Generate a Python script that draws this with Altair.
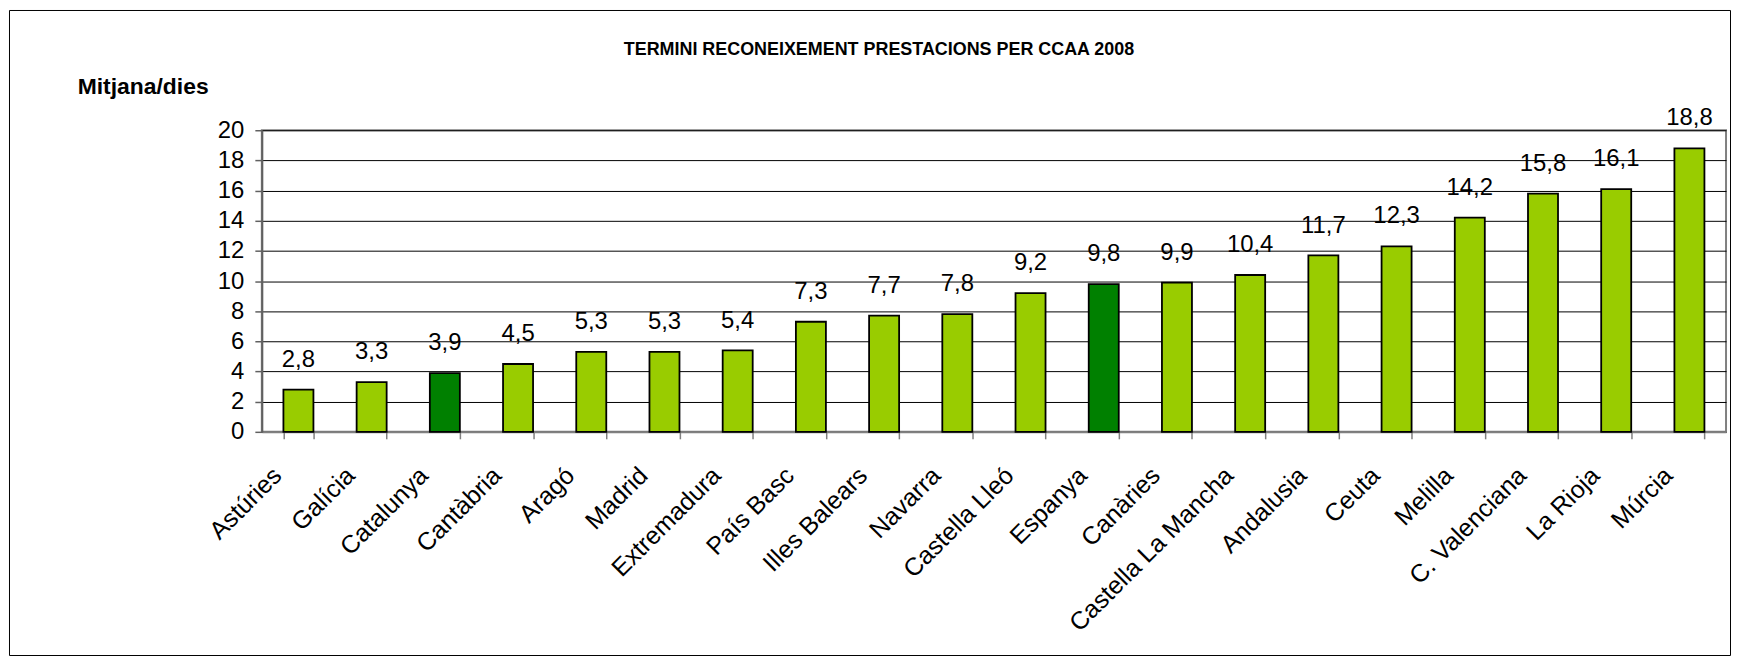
import altair as alt
import pandas as pd

# ---- data ----
regions = ["Astúries", "Galícia", "Catalunya", "Cantàbria", "Aragó", "Madrid",
           "Extremadura", "País Basc", "Illes Balears", "Navarra", "Castella Lleó",
           "Espanya", "Canàries", "Castella La Mancha", "Andalusia", "Ceuta",
           "Melilla", "C. Valenciana", "La Rioja", "Múrcia"]
days = [2.8, 3.3, 3.9, 4.5, 5.3, 5.3, 5.4, 7.3, 7.7, 7.8, 9.2,
        9.8, 9.9, 10.4, 11.7, 12.3, 14.2, 15.8, 16.1, 18.8]
highlighted = ["Catalunya", "Espanya"]
y_ticks = [0, 2, 4, 6, 8, 10, 12, 14, 16, 18, 20]
title_text = "TERMINI RECONEIXEMENT PRESTACIONS PER CCAA 2008"
y_title = "Mitjana/dies"

df = pd.DataFrame({"regio": regions, "dies": days})
df["grup"] = ["destacat" if r in highlighted else "altres" for r in regions]

W, H = 1471, 303
FONT = "Liberation Sans"

x_enc = alt.X(
    "regio:N", sort=regions, title=None,
    scale=alt.Scale(paddingInner=0.59, paddingOuter=0.295),
    axis=alt.Axis(labelAngle=-45, labelAlign="right", labelBaseline="top",
                  labelFont=FONT, labelFontSize=25, labelColor="black",
                  labelPadding=24, labelOffset=-30, labelOverlap=False,
                  labelLimit=400, tickBand="extent", tickSize=7,
                  tickColor="#808080", tickWidth=1.5, domainColor="#808080",
                  domainWidth=2, grid=False),
)
y_enc = alt.Y(
    "dies:Q", title=None,
    scale=alt.Scale(domain=[0, 20], nice=False),
    axis=alt.Axis(values=y_ticks, tickSize=7, tickColor="#606060", tickWidth=1.5,
                  domainColor="#606060", domainWidth=2, grid=True,
                  gridColor="black", gridWidth=1, labelFont=FONT,
                  labelFontSize=24, labelColor="black", labelPadding=11),
)

base = alt.Chart(df)

bars = base.mark_bar(stroke="black", strokeWidth=1.8).encode(
    x=x_enc, y=y_enc,
    color=alt.Color("grup:N", scale=alt.Scale(domain=["altres", "destacat"],
                                               range=["#99CC00", "#008000"]),
                    legend=None),
)

labels = base.transform_calculate(
    etiqueta="replace(format(datum.dies, '.1f'), '.', ',')"
).mark_text(dy=-23, baseline="alphabetic", font=FONT, fontSize=24,
            color="black").encode(x=x_enc, y=y_enc, text="etiqueta:N")

title_mark = alt.Chart(alt.Data(values=[{"t": title_text}])).mark_text(
    font=FONT, fontSize=18, fontWeight="bold",
    align="center", baseline="alphabetic", color="black"
).encode(x=alt.value(620), y=alt.value(-76), text="t:N")

ytitle_mark = alt.Chart(alt.Data(values=[{"t": y_title}])).mark_text(
    font=FONT, fontSize=23, fontWeight="bold",
    align="left", baseline="alphabetic", color="black"
).encode(x=alt.value(-185), y=alt.value(-36), text="t:N")

border = alt.Chart(alt.Data(values=[{"b": 1}])).mark_rect(
    fillOpacity=0, stroke="black", strokeWidth=1
).encode(x=alt.value(-253.5), x2=alt.value(1475.5),
         y=alt.value(-120.3), y2=alt.value(527.7))

chart = alt.layer(border, bars, labels, title_mark, ytitle_mark).properties(
    width=W, height=H,
    autosize=alt.AutoSizeParams(type="none"),
    padding={"left": 255, "top": 121.3, "right": 6, "bottom": 226},
    background="white",
).configure_view(stroke="#808080", strokeWidth=2)

chart.save("out.html", embed_options={"renderer": "svg", "actions": False})
